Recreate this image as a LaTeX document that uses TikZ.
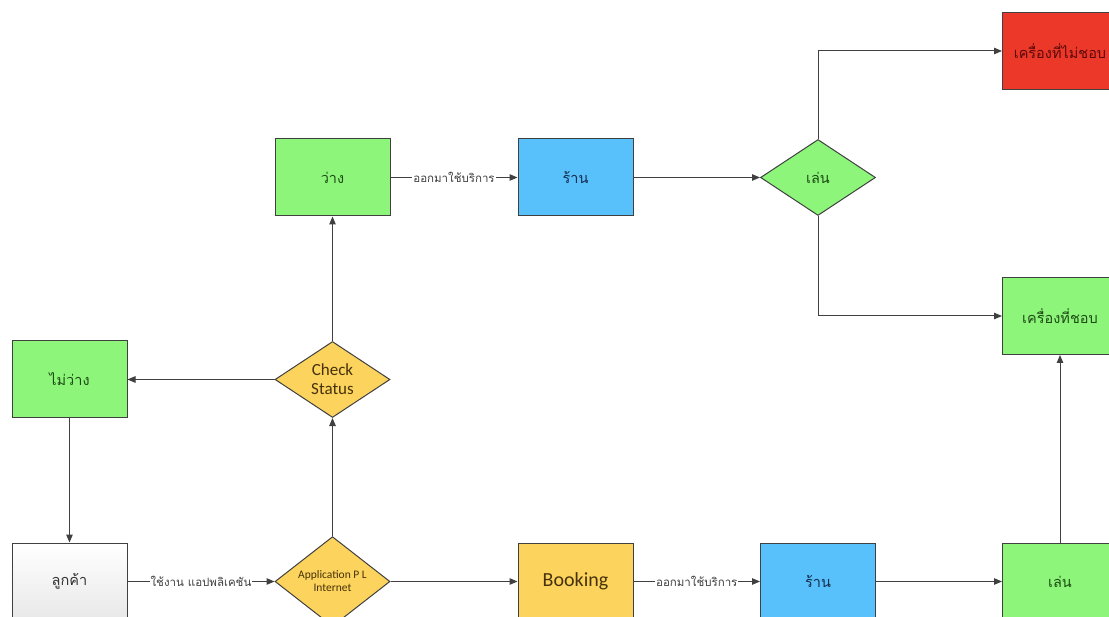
\documentclass[tikz,border=0pt]{standalone}
\usepackage{fontspec}
\setmainfont{Carlito}
\newfontfamily\thaifont[Script=Thai]{Loma}
\usetikzlibrary{shapes.geometric,arrows.meta}
\definecolor{linegray}{RGB}{64,64,64}
\definecolor{boxgreen}{RGB}{140,245,122}
\definecolor{boxblue}{RGB}{88,192,250}
\definecolor{boxyellow}{RGB}{252,211,92}
\definecolor{boxred}{RGB}{236,56,40}
\definecolor{txtgreen}{RGB}{30,75,20}
\definecolor{txtblue}{RGB}{20,45,80}
\definecolor{txtred}{RGB}{90,10,10}
\definecolor{txtyellow}{RGB}{70,50,10}

\begin{document}
\begin{tikzpicture}[x=1pt,y=-1pt,
  box/.style={draw=linegray,line width=1pt,minimum width=115pt,minimum height=77pt,inner sep=2pt},
  greenbox/.style={box,fill=boxgreen,text=txtgreen,font=\thaifont\fontsize{14.5}{16}\selectfont},
  bluebox/.style={box,fill=boxblue,text=txtblue,font=\thaifont\fontsize{14.5}{16}\selectfont},
  redbox/.style={box,fill=boxred,text=txtred,font=\thaifont\fontsize{14.5}{16}\selectfont},
  decide/.style={diamond,draw=linegray,line width=1pt,minimum width=115pt,minimum height=76pt,inner sep=0pt,align=center},
  arr/.style={draw=linegray,line width=1pt,-{Triangle[length=8pt,width=6.5pt]}},
  lbl/.style={midway,fill=white,inner sep=1pt,text=linegray,font=\thaifont\fontsize{11.5}{13}\selectfont}]
\useasboundingbox (0,0) rectangle (1109,617);

% bottom row
\node[box,top color=white,bottom color=gray!18,text=black!80,font=\thaifont\fontsize{14.5}{16}\selectfont] (cust) at (69.5,581.5) {ลูกค้า};
\node[decide,fill=boxyellow,text=txtyellow,font=\fontsize{11.5}{13}\selectfont] (app) at (332.5,581.5) {Application P L\\Internet};
\node[box,fill=boxyellow,text=txtyellow,font=\fontsize{20}{22}\selectfont] (book) at (575.5,581.5) {Booking};
\node[bluebox] (shopB) at (818,581.5) {ร้าน};
\node[greenbox] (playB) at (1060,581.5) {เล่น};

% middle
\node[decide,fill=boxyellow,text=txtyellow,font=\fontsize{17}{19}\selectfont] (check) at (332.5,379.5) {Check\\Status};
\node[greenbox] (busy) at (69.5,379.5) {ไม่ว่าง};
\node[greenbox] (like) at (1060,316) {เครื่องที่ชอบ};

% top row
\node[greenbox] (free) at (332.5,177.5) {ว่าง};
\node[bluebox] (shopT) at (575.5,177.5) {ร้าน};
\node[decide,fill=boxgreen,text=txtgreen,font=\thaifont\fontsize{14.5}{16}\selectfont] (play) at (818,177.5) {เล่น};
\node[redbox] (dislike) at (1060,51) {เครื่องที่ไม่ชอบ};

\draw[arr] (cust) -- node[lbl]{ใช้งาน แอปพลิเคชัน} (app);
\draw[arr] (app) -- (book);
\draw[arr] (book) -- node[lbl]{ออกมาใช้บริการ} (shopB);
\draw[arr] (shopB) -- (playB);
\draw[arr] (playB) -- (like);
\draw[arr] (app) -- (check);
\draw[arr] (check) -- (busy);
\draw[arr] (busy) -- (cust);
\draw[arr] (check) -- (free);
\draw[arr] (free) -- node[lbl]{ออกมาใช้บริการ} (shopT);
\draw[arr] (shopT) -- (play);
\draw[arr] (play.north) |- (dislike);
\draw[arr] (play.south) |- (like);
\end{tikzpicture}
\end{document}
